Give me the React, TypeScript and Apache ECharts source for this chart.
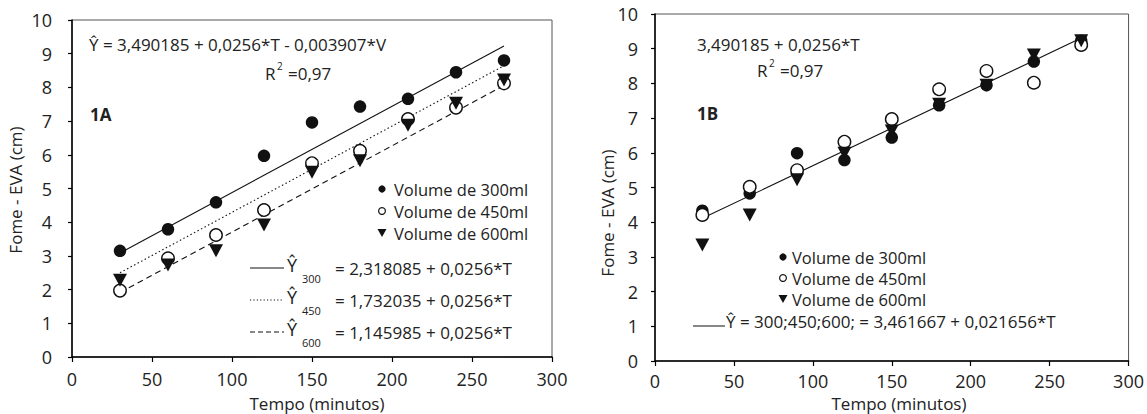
import React, { useEffect, useRef } from "react";
import * as echarts from "echarts";

// ---- Data ----
const tempo = [30, 60, 90, 120, 150, 180, 210, 240, 270];

// Panel 1A
const a300 = [3.15, 3.79, 4.59, 5.97, 6.96, 7.43, 7.66, 8.45, 8.8];
const a450 = [1.97, 2.93, 3.62, 4.36, 5.75, 6.12, 7.06, 7.4, 8.12];
const a600 = [2.28, 2.73, 3.15, 3.92, 5.48, 5.82, 6.88, 7.53, 8.22];
// fitted line endpoints (T = 30 and T = 270)
const fitT = [30, 270];
const fitA300 = [3.086, 9.23];
const fitA450 = [2.5, 8.644];
const fitA600 = [1.914, 8.058];

// Panel 1B
const b300 = [4.33, 4.83, 5.99, 5.79, 6.44, 7.37, 7.95, 8.63, 9.23];
const b450 = [4.21, 5.02, 5.5, 6.32, 6.97, 7.83, 8.36, 8.02, 9.11];
const b600 = [3.34, 4.21, 5.22, 5.99, 6.63, 7.4, 7.95, 8.82, 9.23];
const fitB = [4.111, 9.309];

const xTicks = { min: 0, max: 300, interval: 50 };
const yTicks = { min: 0, max: 10, interval: 1 };

const FONT = "Open Sans";
const TXT = "#222";
const INK = "#111";

const pts = (ys: number[]) => tempo.map((t, i) => [t, ys[i]]);
const fitPts = (ys: number[]) => fitT.map((t, i) => [t, ys[i]]);

export default function App() {
  const ref = useRef<HTMLDivElement>(null);
  useEffect(() => {
    if (!ref.current) return;
    const chart = echarts.init(ref.current, undefined, { renderer: "svg" });

    const axisCommon = (labelMargin: number, tickLen: number) => ({
      axisLine: { show: true, onZero: false, lineStyle: { color: "#000", width: 1.5 } },
      axisTick: { show: true, inside: false, length: tickLen, lineStyle: { color: "#000", width: 1.2 } },
      splitLine: { show: false },
      axisLabel: { fontSize: 18, color: TXT, fontFamily: FONT, margin: labelMargin },
    });

    const filled = (name: string, data: number[][], xi: number) => ({
      name, type: "scatter", xAxisIndex: xi, yAxisIndex: xi, data,
      symbol: "circle", symbolSize: 12.5, z: 3,
      itemStyle: { color: INK, borderColor: INK, borderWidth: 0, opacity: 1 },
    });
    const open = (name: string, data: number[][], xi: number) => ({
      name, type: "scatter", xAxisIndex: xi, yAxisIndex: xi, data,
      symbol: "circle", symbolSize: 12.5, z: 4,
      itemStyle: { color: "#fff", borderColor: INK, borderWidth: 1.4, opacity: 1 },
    });
    const tri = (name: string, data: number[][], xi: number) => ({
      name, type: "scatter", xAxisIndex: xi, yAxisIndex: xi, data,
      symbol: "triangle", symbolRotate: 180, symbolSize: [14, 13], z: 5,
      itemStyle: { color: INK, opacity: 1 },
    });
    const fit = (name: string, data: number[][], xi: number, type: any) => ({
      name, type: "line", xAxisIndex: xi, yAxisIndex: xi, data,
      symbol: "none", z: 2,
      lineStyle: { color: INK, width: 1.1, type },
    });

    const t = (text: string, x: number, y: number, extra: any = {}) => ({
      type: "text", x, y,
      style: { text, fontSize: 17, fontFamily: FONT, fill: TXT, verticalAlign: "middle", align: "left", ...extra },
    });

    const legendDots = (mx: number, tx: number, ys: number[]) => [
      { type: "circle", shape: { cx: mx, cy: ys[0], r: 3.6 }, style: { fill: INK } },
      { type: "circle", shape: { cx: mx, cy: ys[1], r: 3.4 }, style: { fill: "#fff", stroke: INK, lineWidth: 1.2 } },
      { type: "polygon", shape: { points: [[mx - 4.5, ys[2] - 4], [mx + 4.5, ys[2] - 4], [mx, ys[2] + 4]] }, style: { fill: INK } },
      t("Volume de 300ml", tx, ys[0], { fontSize: 16.5 }),
      t("Volume de 450ml", tx, ys[1], { fontSize: 16.5 }),
      t("Volume de 600ml", tx, ys[2], { fontSize: 16.5 }),
    ];

    const eqRow = (y: number, dash: any, sub: string, rhs: string) => [
      { type: "line", shape: { x1: 250, y1: y, x2: 284, y2: y }, style: { stroke: INK, lineWidth: 1, lineDash: dash } },
      t("Ŷ", 287, y - 3, { fontSize: 18 }),
      t(sub, 302, y + 10, { fontSize: 11 }),
      t(rhs, 335, y),
    ];

    const r2 = (x: number, y: number) => [
      t("R", x, y),
      t("2", x + 12, y - 7, { fontSize: 10 }),
      t("=0,97", x + 23, y),
    ];

    const option: any = {
      animation: false,
      backgroundColor: "#fff",
      grid: [
        { left: 72, top: 20, width: 480, height: 337, show: true, borderColor: "#555", borderWidth: 1, backgroundColor: "transparent" },
        { left: 655, top: 14, width: 480, height: 347, show: true, borderColor: "#555", borderWidth: 1, backgroundColor: "transparent" },
      ],
      xAxis: [
        { type: "value", gridIndex: 0, ...xTicks, ...axisCommon(13, 5) },
        { type: "value", gridIndex: 1, ...xTicks, ...axisCommon(11, 5) },
      ],
      yAxis: [
        { type: "value", gridIndex: 0, ...yTicks, ...axisCommon(20, 4) },
        { type: "value", gridIndex: 1, ...yTicks, ...axisCommon(17, 4) },
      ],
      series: [
        fit("Ŷ300", fitPts(fitA300), 0, "solid"),
        fit("Ŷ450", fitPts(fitA450), 0, [1.5, 2.5]),
        fit("Ŷ600", fitPts(fitA600), 0, [6, 4]),
        filled("Volume de 300ml", pts(a300), 0),
        open("Volume de 450ml", pts(a450), 0),
        tri("Volume de 600ml", pts(a600), 0),
        fit("Ŷ", fitPts(fitB), 1, "solid"),
        filled("Volume de 300ml", pts(b300), 1),
        open("Volume de 450ml", pts(b450), 1),
        tri("Volume de 600ml", pts(b600), 1),
      ],
      graphic: [
        // Panel 1A annotations
        t("Ŷ = 3,490185 + 0,0256*T - 0,003907*V", 89, 44),
        ...r2(265, 73),
        t("1A", 90, 114, { fontWeight: "bold", fontSize: 17 }),
        ...legendDots(382, 394, [189, 211, 233]),
        ...eqRow(268, null, "300", "= 2,318085 + 0,0256*T"),
        ...eqRow(300, [1.2, 2.2], "450", "= 1,732035 + 0,0256*T"),
        ...eqRow(332, [5, 3], "600", "= 1,145985 + 0,0256*T"),
        { type: "text", x: 317, y: 403, style: { text: "Tempo (minutos)", fontSize: 17, fontFamily: FONT, fill: TXT, align: "center", verticalAlign: "middle" } },
        { type: "text", x: 15, y: 190, rotation: Math.PI / 2, style: { text: "Fome - EVA (cm)", fontSize: 17, fontFamily: FONT, fill: TXT, align: "center", verticalAlign: "middle" } },

        // Panel 1B annotations
        t("3,490185 + 0,0256*T", 697, 44),
        ...r2(757, 70),
        t("1B", 697, 113, { fontWeight: "bold", fontSize: 17 }),
        ...legendDots(783, 792, [257, 278, 299]),
        { type: "line", shape: { x1: 693, y1: 326, x2: 725, y2: 326 }, style: { stroke: INK, lineWidth: 1 } },
        t("Ŷ = 300;450;600; = 3,461667 + 0,021656*T", 726, 321),
        { type: "text", x: 899, y: 403, style: { text: "Tempo (minutos)", fontSize: 17, fontFamily: FONT, fill: TXT, align: "center", verticalAlign: "middle" } },
        { type: "text", x: 607, y: 213, rotation: Math.PI / 2, style: { text: "Fome - EVA (cm)", fontSize: 17, fontFamily: FONT, fill: TXT, align: "center", verticalAlign: "middle" } },
      ],
    };
    chart.setOption(option);
    return () => chart.dispose();
  }, []);

  return (
    <div
      ref={ref}
      style={{ position: "fixed", left: 0, top: 0, width: 1147, height: 414, background: "#fff" }}
    />
  );
}
